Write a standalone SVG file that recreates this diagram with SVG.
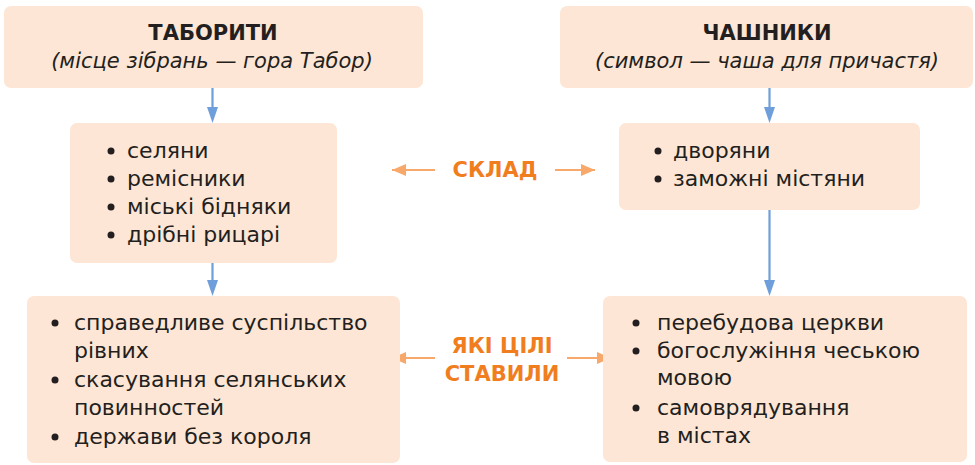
<svg xmlns="http://www.w3.org/2000/svg" width="975" height="465" viewBox="0 0 975 465">
<defs>
<style>
.box{fill:#fde6d5;}
.t{font-family:"DejaVu Sans","Open Sans",sans-serif;fill:#231f20;}
.title{font-size:21px;font-weight:700;text-anchor:middle;}
.sub{font-size:21px;font-style:italic;text-anchor:middle;}
.li{font-size:22px;}
.lbl{font-family:"DejaVu Sans","Open Sans",sans-serif;font-size:21px;font-weight:700;fill:#f07e1f;text-anchor:middle;}
.blue{stroke:#6f9fdb;stroke-width:2.2;fill:none;}
.orange{stroke:#f8a86a;stroke-width:2.2;fill:none;}
</style>
<marker id="ao" markerUnits="userSpaceOnUse" viewBox="0 0 14 12" markerWidth="14" markerHeight="12" refX="14" refY="6" orient="auto-start-reverse">
<path d="M0,0 L14,6 L0,12 Z" fill="#f8a86a"/>
</marker>
</defs>
<rect width="975" height="465" fill="#ffffff"/>

<g id="connectors">
<line class="blue" x1="212.5" y1="88" x2="212.5" y2="107" />
<path d="M207,107 L218,107 L212.5,123 Z" fill="#6f9fdb"/>
<line class="blue" x1="769.5" y1="88" x2="769.5" y2="107" />
<path d="M764,107 L775,107 L769.5,123 Z" fill="#6f9fdb"/>
<line class="blue" x1="212.5" y1="263" x2="212.5" y2="280" />
<path d="M207,280 L218,280 L212.5,296 Z" fill="#6f9fdb"/>
<line class="blue" x1="769.5" y1="210" x2="769.5" y2="280" />
<path d="M764,280 L775,280 L769.5,296 Z" fill="#6f9fdb"/>
<line class="orange" x1="435" y1="170" x2="392" y2="170" marker-end="url(#ao)"/>
<line class="orange" x1="555" y1="170" x2="595" y2="170" marker-end="url(#ao)"/>
<line class="orange" x1="435" y1="358" x2="392" y2="358" marker-end="url(#ao)"/>
<line class="orange" x1="567" y1="358" x2="611" y2="358" marker-end="url(#ao)"/>
</g>

<g id="taborites">
<rect class="box" x="4" y="6" width="419" height="82" rx="7"/>
<text class="t title" x="213" y="40">ТАБОРИТИ</text>
<text class="t sub" x="212" y="68">(місце зібрань — гора Табор)</text>
</g>

<g id="chashniki">
<rect class="box" x="560" y="6" width="413" height="82" rx="7"/>
<text class="t title" x="767" y="40">ЧАШНИКИ</text>
<text class="t sub" x="767" y="68">(символ — чаша для причастя)</text>
</g>

<g id="taborites-members">
<rect class="box" x="70" y="123" width="267" height="140" rx="7"/>
<g class="t li">
<circle cx="111" cy="151" r="3.5" fill="#231f20"/>
<text x="127" y="158">селяни</text>
<circle cx="111" cy="179" r="3.5" fill="#231f20"/>
<text x="127" y="186">ремісники</text>
<circle cx="111" cy="207" r="3.5" fill="#231f20"/>
<text x="127" y="214">міські бідняки</text>
<circle cx="111" cy="235" r="3.5" fill="#231f20"/>
<text x="127" y="242">дрібні рицарі</text>
</g>
</g>

<g id="chashniki-members">
<rect class="box" x="619" y="123" width="301" height="87" rx="7"/>
<g class="t li">
<circle cx="658" cy="151" r="3.5" fill="#231f20"/>
<text x="673" y="158">дворяни</text>
<circle cx="658" cy="179" r="3.5" fill="#231f20"/>
<text x="673" y="186">заможні містяни</text>
</g>
</g>

<g id="taborites-goals">
<rect class="box" x="27" y="296" width="373" height="167" rx="7"/>
<g class="t li">
<circle cx="55" cy="323" r="3.5" fill="#231f20"/>
<text x="74" y="330">справедливе суспільство</text>
<text x="74" y="358">рівних</text>
<circle cx="55" cy="380" r="3.5" fill="#231f20"/>
<text x="74" y="387">скасування селянських</text>
<text x="74" y="415">повинностей</text>
<circle cx="55" cy="437" r="3.5" fill="#231f20"/>
<text x="74" y="444">держави без короля</text>
</g>
</g>

<g id="chashniki-goals">
<rect class="box" x="603" y="296" width="364" height="166" rx="7"/>
<g class="t li">
<circle cx="636" cy="323" r="3.5" fill="#231f20"/>
<text x="657" y="330">перебудова церкви</text>
<circle cx="636" cy="351" r="3.5" fill="#231f20"/>
<text x="657" y="358">богослужіння чеською</text>
<text x="657" y="385">мовою</text>
<circle cx="636" cy="408" r="3.5" fill="#231f20"/>
<text x="657" y="415">самоврядування</text>
<text x="657" y="443">в містах</text>
</g>
</g>

<g id="labels">
<text class="lbl" x="495" y="177">СКЛАД</text>
<text class="lbl" x="502" y="353">ЯКІ ЦІЛІ</text>
<text class="lbl" x="502" y="381">СТАВИЛИ</text>
</g>
</svg>
